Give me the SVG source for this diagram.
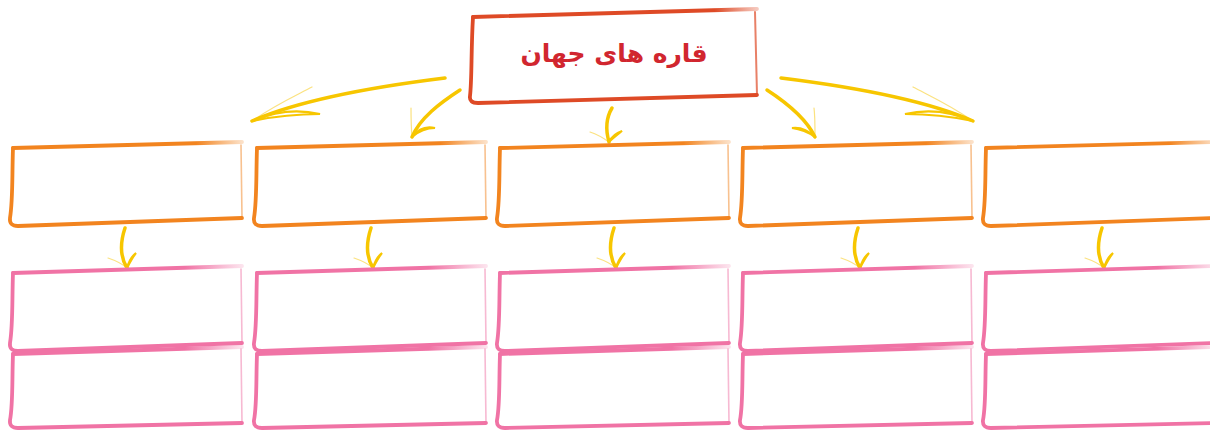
<svg xmlns="http://www.w3.org/2000/svg" xmlns:xlink="http://www.w3.org/1999/xlink" width="1210" height="430" viewBox="0 0 1210 430">
<style>
.o{fill:none;stroke:#f2841f;stroke-width:3.8;stroke-linecap:round;stroke-linejoin:round}
.p{fill:none;stroke:#f073a5;stroke-width:3.8;stroke-linecap:round;stroke-linejoin:round}
.r{fill:none;stroke:#de4a26;stroke-width:3.8;stroke-linecap:round;stroke-linejoin:round}
.thin{stroke-width:1.6;opacity:0.5}
.sh{fill:none;stroke:#f7c600;stroke-width:3.5;stroke-linecap:round}
.bb{fill:none;stroke:#f7c600;stroke-width:2.2;stroke-linecap:round}
.fb{fill:none;stroke:#f7c600;stroke-width:1.2;stroke-linecap:round;opacity:0.5}
.title{font-family:"DejaVu Sans",sans-serif;font-weight:bold;font-size:25px;fill:#d1262f}
</style>
<defs>
<linearGradient id="go" x1="0" y1="0" x2="1" y2="0"><stop offset="0" stop-color="#f2841f"/><stop offset="0.8" stop-color="#f2841f"/><stop offset="1" stop-color="#f2841f" stop-opacity="0.25"/></linearGradient>
<linearGradient id="gp" x1="0" y1="0" x2="1" y2="0"><stop offset="0" stop-color="#f073a5"/><stop offset="0.75" stop-color="#f073a5"/><stop offset="1" stop-color="#f073a5" stop-opacity="0.2"/></linearGradient>
<linearGradient id="gr" x1="0" y1="0" x2="1" y2="0"><stop offset="0" stop-color="#de4a26"/><stop offset="0.85" stop-color="#de4a26"/><stop offset="1" stop-color="#de4a26" stop-opacity="0.3"/></linearGradient>
<g id="obox">
<path class="o" d="M13,148 C12,175 13,200 10,218 Q9,226 18,226 L242,218"/>
<path class="o" style="stroke:url(#go)" d="M13,148 L242,142"/>
<path class="o thin" d="M241,145 L242,218"/>
</g>
<g id="pbox1">
<path class="p" d="M13,273 C12,300 13,325 10,343 Q9,351 18,351 L242,343"/>
<path class="p" style="stroke:url(#gp)" d="M13,273 L242,266"/>
<path class="p thin" d="M241,269 L242,343"/>
</g>
<g id="pbox2">
<path class="p" d="M13,354 C12,380 13,405 10,420 Q9,428 18,428 L242,423"/>
<path class="p" style="stroke:url(#gp)" d="M13,354 L242,347"/>
<path class="p thin" d="M241,349 L242,423"/>
</g>
<g id="sarrow">
<path class="sh" d="M125,228 C121,240 119,255 127,268"/>
<path class="bb" d="M127,268 C129,261 131,257 136,253 C132,258 130,262 127,268"/>
<path class="fb" d="M127,268 C120,262 114,260 108,258"/>
</g>
</defs>
<g id="title">
<path class="r" d="M473,17 C471,50 472,80 470,96 Q469,103 478,103 L757,95"/>
<path class="r" style="stroke:url(#gr)" d="M473,17 L757,9"/>
<path class="r" style="stroke-width:2;opacity:0.7" d="M755,12 L757,95"/>
<text class="title" x="614" y="62" text-anchor="middle" direction="rtl">قاره های جهان</text>
</g>
<g id="connectors">
<path class="sh" d="M445,78 C380,86 300,100 252,121"/>
<path class="bb" d="M252,121 C275,111 298,109 320,114 C298,114 276,116 252,121"/>
<path class="fb" d="M252,121 C275,105 295,96 312,87"/>
<path class="sh" d="M460,90 C440,103 420,118 412,137"/>
<path class="bb" d="M412,137 C418,129 426,126 435,128 C426,128 419,131 412,137"/>
<path class="fb" d="M412,137 C411,125 411,115 411,108"/>
<path class="sh" d="M612,108 C606,118 605,128 609,142"/>
<path class="bb" d="M609,142 C612,136 616,133 622,131 C617,135 613,138 609,142"/>
<path class="fb" d="M609,142 C602,137 596,134 590,132"/>
<path class="sh" d="M767,90 C787,103 806,118 815,137"/>
<path class="bb" d="M815,137 C808,130 800,127 792,128 C800,129 808,132 815,137"/>
<path class="fb" d="M815,137 C815,125 815,115 814,108"/>
<path class="sh" d="M781,78 C846,86 925,100 973,121"/>
<path class="bb" d="M973,121 C950,111 927,109 905,114 C927,114 949,116 973,121"/>
<path class="fb" d="M973,121 C950,105 930,96 913,87"/>
<use xlink:href="#sarrow"/>
<use xlink:href="#sarrow" transform="translate(246,0)"/>
<use xlink:href="#sarrow" transform="translate(489,0)"/>
<use xlink:href="#sarrow" transform="translate(733,0)"/>
<use xlink:href="#sarrow" transform="translate(977,0)"/>
</g>
<g id="o1"><use xlink:href="#obox"/></g>
<g id="o2"><use xlink:href="#obox" transform="translate(244,0)"/></g>
<g id="o3"><use xlink:href="#obox" transform="translate(487,0)"/></g>
<g id="o4"><use xlink:href="#obox" transform="translate(730,0)"/></g>
<g id="o5"><use xlink:href="#obox" transform="translate(973,0)"/></g>
<g id="p1a"><use xlink:href="#pbox1"/></g>
<g id="p2a"><use xlink:href="#pbox1" transform="translate(244,0)"/></g>
<g id="p3a"><use xlink:href="#pbox1" transform="translate(487,0)"/></g>
<g id="p4a"><use xlink:href="#pbox1" transform="translate(730,0)"/></g>
<g id="p5a"><use xlink:href="#pbox1" transform="translate(973,0)"/></g>
<g id="p1b"><use xlink:href="#pbox2"/></g>
<g id="p2b"><use xlink:href="#pbox2" transform="translate(244,0)"/></g>
<g id="p3b"><use xlink:href="#pbox2" transform="translate(487,0)"/></g>
<g id="p4b"><use xlink:href="#pbox2" transform="translate(730,0)"/></g>
<g id="p5b"><use xlink:href="#pbox2" transform="translate(973,0)"/></g>
</svg>
